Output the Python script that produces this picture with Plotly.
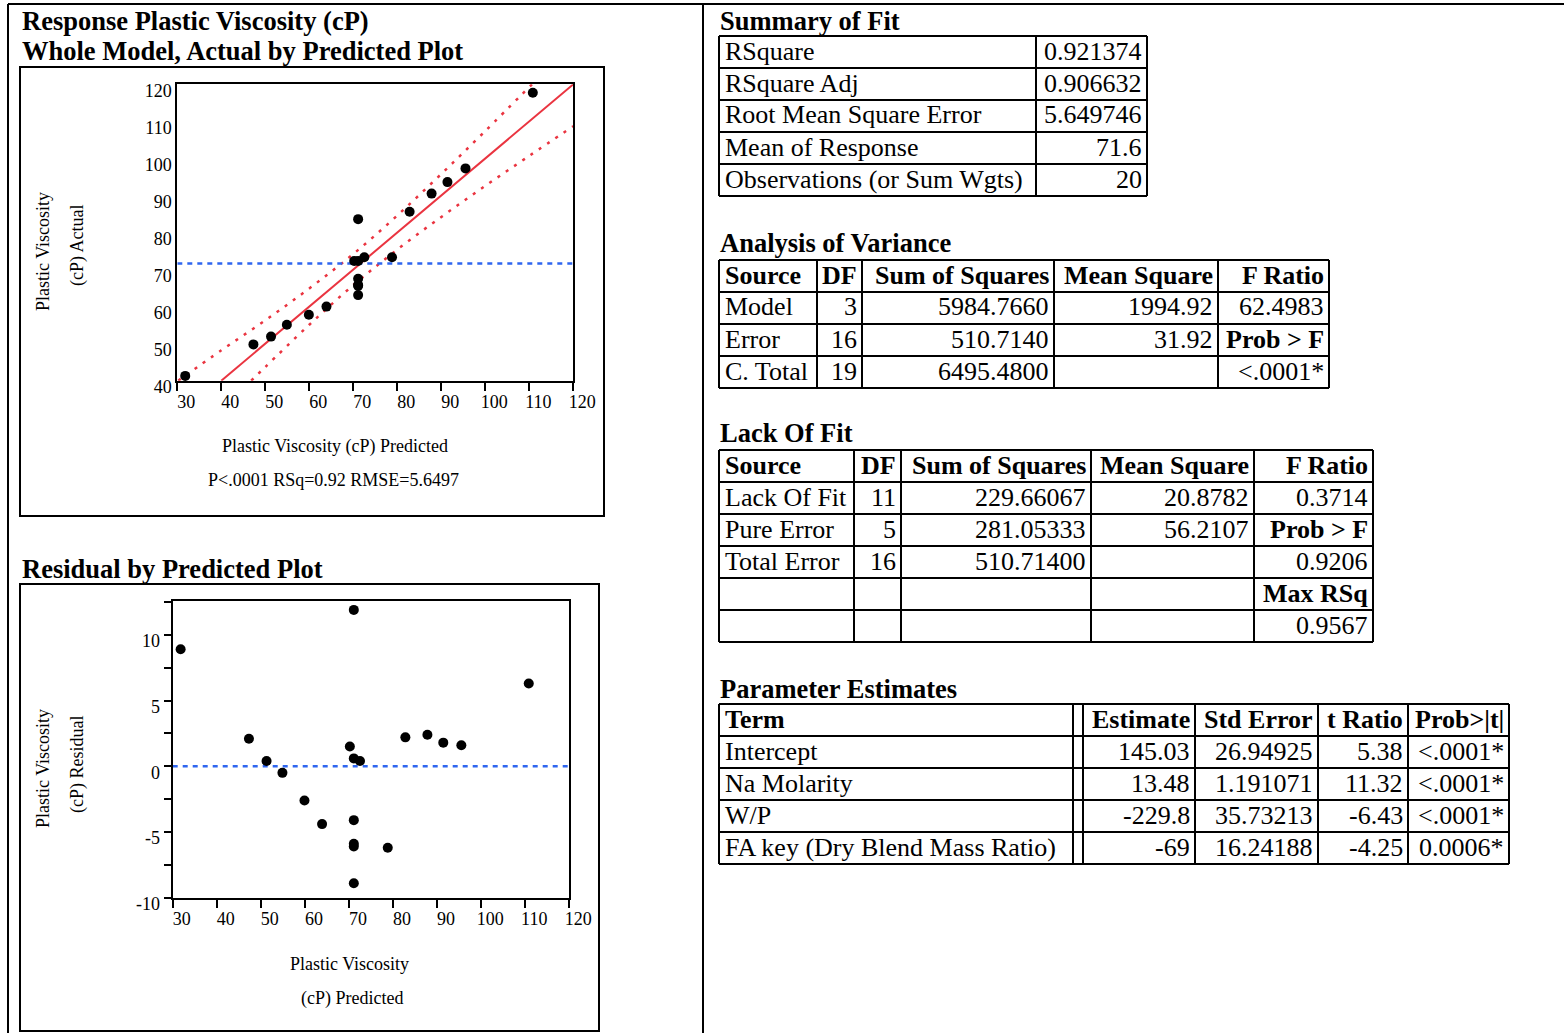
import plotly.graph_objects as go

W, H = 1564, 1033
FONT = "Liberation Serif"

# ---------------- data ----------------
pred = [31.8, 47.3, 51.3, 54.9, 59.9, 63.9, 70.2, 71.1, 72.5, 71.1,
        71.1, 71.1, 71.1, 71.1, 78.8, 82.8, 87.8, 91.4, 95.5, 110.8]
actual = [41.3, 49.8, 51.9, 55.1, 57.8, 60.0, 72.3, 72.3, 73.3, 83.6,
          67.5, 65.8, 65.6, 63.1, 73.3, 85.6, 90.5, 93.6, 97.3, 117.7]
residual = [8.9, 2.1, 0.4, -0.5, -2.6, -4.4, 1.5, 0.6, 0.4, 11.9,
            -4.1, -5.9, -6.1, -8.9, -6.2, 2.2, 2.4, 1.8, 1.6, 6.3]

fit_x = [40, 120]
fit_y = [40, 120]
upper_x = [30.2, 40, 50, 60, 70, 80, 90, 100, 110.6]
upper_y = [40.0, 48.2, 56.3, 64.9, 74.2, 84.6, 95.8, 107.4, 120.0]
lower_x = [46.8, 50, 60, 70, 80, 90, 100, 110, 120]
lower_y = [40.0, 43.7, 55.1, 65.8, 75.4, 84.2, 92.6, 100.7, 108.7]
mean_response = 71.6
x_range = [30, 120]
resid_tickvals = [-10, -5, 0, 5, 10]
resid_ticktext = ["-10", "-5", "0", "5", "10"]

summary_labels = ["RSquare", "RSquare Adj", "Root Mean Square Error",
                  "Mean of Response", "Observations (or Sum Wgts)"]
summary_values = ["0.921374", "0.906632", "5.649746", "71.6", "20"]

anova_header = ["Source", "DF", "Sum of Squares", "Mean Square", "F Ratio"]
anova_source = ["Model", "Error", "C. Total"]
anova_df = ["3", "16", "19"]
anova_ss = ["5984.7660", "510.7140", "6495.4800"]
anova_ms = ["1994.92", "31.92", ""]
anova_f = ["62.4983", "<b>Prob &gt; F</b>", "&lt;.0001*"]

lof_header = ["Source", "DF", "Sum of Squares", "Mean Square", "F Ratio"]
lof_source = ["Lack Of Fit", "Pure Error", "Total Error", "", ""]
lof_df = ["11", "5", "16", "", ""]
lof_ss = ["229.66067", "281.05333", "510.71400", "", ""]
lof_ms = ["20.8782", "56.2107", "", "", ""]
lof_f = ["0.3714", "<b>Prob &gt; F</b>", "0.9206", "<b>Max RSq</b>", "0.9567"]

pe_header = ["Term", "", "Estimate", "Std Error", "t Ratio", "Prob&gt;|t|"]
pe_terms = ["Intercept", "Na Molarity", "W/P", "FA key (Dry Blend Mass Ratio)"]
pe_est = ["145.03", "13.48", "-229.8", "-69"]
pe_se = ["26.94925", "1.191071", "35.73213", "16.24188"]
pe_t = ["5.38", "11.32", "-6.43", "-4.25"]
pe_p = ["&lt;.0001*", "&lt;.0001*", "&lt;.0001*", "0.0006*"]

# ---------------- helpers ----------------
shapes = []
annotations = []


def px(x):
    return x / W


def py(y):
    return 1 - y / H


def line(x0, y0, x1, y1, w=2):
    shapes.append(dict(type="line", xref="paper", yref="paper",
                       x0=px(x0), y0=py(y0), x1=px(x1), y1=py(y1),
                       line=dict(color="black", width=w)))


def rect(x0, y0, x1, y1, w=2):
    shapes.append(dict(type="rect", xref="paper", yref="paper",
                       x0=px(x0), y0=py(y0), x1=px(x1), y1=py(y1),
                       line=dict(color="black", width=w)))


def text(x, y, s, size=26, bold=False, anchor="left", angle=0):
    if bold:
        s = "<b>" + s + "</b>"
    annotations.append(dict(xref="paper", yref="paper", x=px(x), y=py(y),
                            text=s, showarrow=False, xanchor=anchor,
                            yanchor="middle", textangle=angle, borderpad=0,
                            font=dict(family=FONT, size=size, color="black")))


def table(cols, top, rowh, rows, lw=2):
    nrows = len(rows)
    bottom = top + nrows * rowh
    for r in range(nrows + 1):
        line(cols[0], top + r * rowh, cols[-1], top + r * rowh, lw)
    for c in cols:
        line(c, top, c, bottom, lw)
    for r, row in enumerate(rows):
        yc = top + r * rowh + rowh / 2 - 1
        for c, cell in enumerate(row):
            if cell is None:
                continue
            s, align, bold = cell
            if not s:
                continue
            if align == "left":
                text(cols[c] + 5, yc, s, bold=bold, anchor="left")
            else:
                text(cols[c + 1] - 4, yc, s, bold=bold, anchor="right")


# ---------------- page frame ----------------
line(8, 4, W, 4)
line(8, 4, 8, H)
line(703, 4, 703, H)

# ---------------- left titles ----------------
text(21, 21, "Response Plastic Viscosity (cP)", size=26.5, bold=True)
text(21, 51, "Whole Model, Actual by Predicted Plot", size=26.5, bold=True)
text(21, 569, "Residual by Predicted Plot", size=26.5, bold=True)

rect(20, 67, 604, 516)
rect(20, 584, 599, 1031)

# axis titles (plot 1)
text(43, 252, "Plastic Viscosity", size=18, anchor="center", angle=-90)
text(77, 246, "(cP) Actual", size=18, anchor="center", angle=-90)
text(335, 447, "Plastic Viscosity (cP) Predicted", size=18, anchor="center")
text(333, 480, "P&lt;.0001 RSq=0.92 RMSE=5.6497", size=18, anchor="center")
# axis titles (plot 2)
text(43, 769, "Plastic Viscosity", size=18, anchor="center", angle=-90)
text(77, 765, "(cP) Residual", size=18, anchor="center", angle=-90)
text(349, 964, "Plastic Viscosity", size=18, anchor="center")
text(352, 998, "(cP) Predicted", size=18, anchor="center")

# ---------------- right tables ----------------
text(719, 21, "Summary of Fit", size=26.5, bold=True)
table([719, 1036, 1147], 36, 32,
      [[(summary_labels[i], "left", False), (summary_values[i], "right", False)]
       for i in range(len(summary_labels))])

text(719, 243, "Analysis of Variance", size=26.5, bold=True)
rows = [[(anova_header[0], "left", True)] + [(h, "right", True) for h in anova_header[1:]]]
for i in range(len(anova_source)):
    rows.append([(anova_source[i], "left", False), (anova_df[i], "right", False),
                 (anova_ss[i], "right", False), (anova_ms[i], "right", False),
                 (anova_f[i], "right", False)])
table([719, 817, 862, 1054, 1218, 1329], 260, 32, rows)

text(719, 433, "Lack Of Fit", size=26.5, bold=True)
rows = [[(lof_header[0], "left", True)] + [(h, "right", True) for h in lof_header[1:]]]
for i in range(len(lof_source)):
    rows.append([(lof_source[i], "left", False), (lof_df[i], "right", False),
                 (lof_ss[i], "right", False), (lof_ms[i], "right", False),
                 (lof_f[i], "right", False)])
table([719, 854, 901, 1091, 1254, 1373], 450, 32, rows)

text(719, 689, "Parameter Estimates", size=26.5, bold=True)
rows = [[(pe_header[0], "left", True), None] + [(h, "right", True) for h in pe_header[2:]]]
for i in range(len(pe_terms)):
    rows.append([(pe_terms[i], "left", False), None, (pe_est[i], "right", False),
                 (pe_se[i], "right", False), (pe_t[i], "right", False),
                 (pe_p[i], "right", False)])
table([719, 1073, 1083, 1195, 1318, 1408, 1509], 704, 32, rows)

# ---------------- plots ----------------
RED = "#ea3440"
BLUE = "#2f66ef"

fig = go.Figure()
# Plot 1: actual by predicted
fig.add_trace(go.Scatter(x=upper_x, y=upper_y, mode="lines", line_shape="spline",
                         line=dict(color=RED, width=2.5, dash="3px,7px"),
                         xaxis="x", yaxis="y", hoverinfo="skip"))
fig.add_trace(go.Scatter(x=lower_x, y=lower_y, mode="lines", line_shape="spline",
                         line=dict(color=RED, width=2.5, dash="3px,7px"),
                         xaxis="x", yaxis="y", hoverinfo="skip"))
fig.add_trace(go.Scatter(x=fit_x, y=fit_y, mode="lines",
                         line=dict(color=RED, width=2),
                         xaxis="x", yaxis="y", hoverinfo="skip"))
fig.add_trace(go.Scatter(x=x_range, y=[mean_response, mean_response], mode="lines",
                         line=dict(color=BLUE, width=2.5, dash="5px,5px"),
                         xaxis="x", yaxis="y", hoverinfo="skip"))
fig.add_trace(go.Scatter(x=pred, y=actual, mode="markers",
                         marker=dict(color="black", size=10),
                         xaxis="x", yaxis="y", cliponaxis=False))
# Plot 2: residual by predicted
fig.add_trace(go.Scatter(x=x_range, y=[0, 0], mode="lines",
                         line=dict(color=BLUE, width=2.5, dash="5px,5px"),
                         xaxis="x2", yaxis="y2", hoverinfo="skip"))
fig.add_trace(go.Scatter(x=pred, y=residual, mode="markers",
                         marker=dict(color="black", size=10),
                         xaxis="x2", yaxis="y2", cliponaxis=False))

axis_common = dict(showline=True, mirror=True, linecolor="black", linewidth=2,
                   showgrid=False, zeroline=False, fixedrange=True, automargin=False,
                   tickfont=dict(family=FONT, size=18, color="black"),
                   tickcolor="black", tickwidth=2)

fig.update_layout(
    width=W, height=H, autosize=False,
    margin=dict(l=0, r=0, t=0, b=0, pad=0, autoexpand=False),
    paper_bgcolor="white", plot_bgcolor="white",
    showlegend=False,
    shapes=shapes, annotations=annotations,
    xaxis=dict(domain=[px(177.3), px(573.3)], range=x_range, anchor="y",
               tick0=30, dtick=10, ticks="outside", ticklen=8,
               ticklabelshift=9, ticklabelstandoff=-4, **axis_common),
    yaxis=dict(domain=[py(380.7), py(84.3)], range=[40, 120], anchor="x",
               tick0=40, dtick=10, ticks="", ticklabelshift=6, **axis_common),
    xaxis2=dict(domain=[px(172.7), px(569.3)], range=x_range, anchor="y2",
                tick0=30, dtick=10, ticks="outside", ticklen=8,
                ticklabelshift=9, ticklabelstandoff=-4, **axis_common),
    yaxis2=dict(domain=[py(897.7), py(600.7)], range=[-10, 12.6], anchor="x2",
                tickmode="array", tickvals=resid_tickvals, ticktext=resid_ticktext,
                ticks="outside", ticklen=7, ticklabelshift=6,
                minor=dict(dtick=2.5, tick0=0, ticks="outside", ticklen=7,
                           tickcolor="black", tickwidth=2),
                **axis_common),
)

fig.write_html(
    "out.html",
    config={"responsive": False, "displayModeBar": False},
    post_script="document.body.style.margin='0';document.body.style.padding='0';"
                "document.body.style.overflow='hidden';",
)
